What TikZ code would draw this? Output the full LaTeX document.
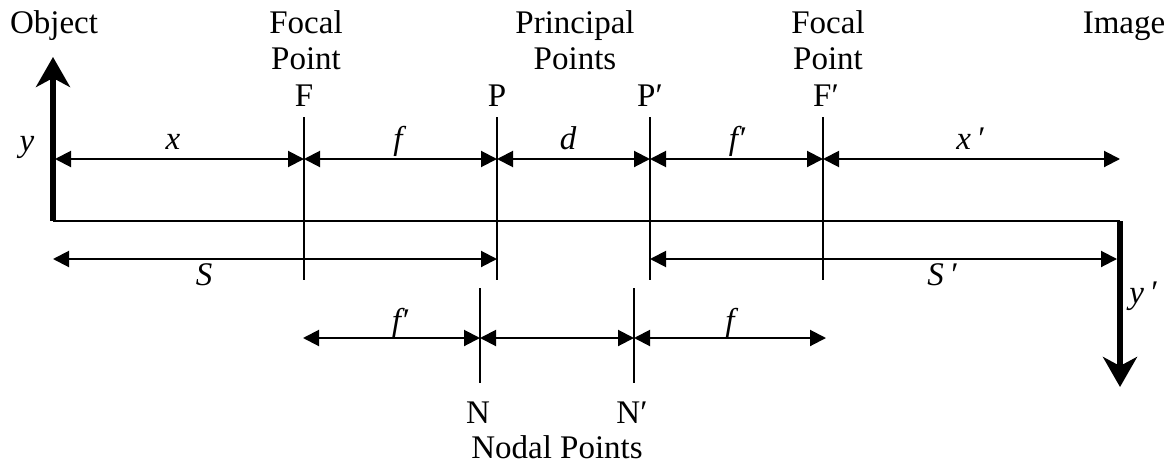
\documentclass[tikz,border=0pt]{standalone}
\usepackage{fontspec}
\setmainfont{Liberation Serif}
\usetikzlibrary{arrows.meta}
\begin{document}
\begin{tikzpicture}[x=0.5pt,y=-0.5pt,
  txt/.style={inner sep=0pt,anchor=base,font=\fontsize{16.5}{19}\selectfont},
  itxt/.style={txt,font=\fontsize{16.5}{19}\selectfont\itshape},
  thin line/.style={line width=1pt},
  dim/.style={line width=1pt,{Triangle[length=8pt,width=8pt]}-{Triangle[length=8pt,width=8pt]}},
  bigarrow/.style={line width=2.6pt,-{Stealth[length=15pt,width=17pt,inset=4.5pt]}}]
\useasboundingbox (0,0) rectangle (1165,466);
% object / image / axis
\coordinate (Ob) at (53,221);
\coordinate (Ot) at (53,57);
\coordinate (Ib) at (1120,221);
\coordinate (It) at (1120,387);
\draw[thin line] (Ob) -- (Ib);
\draw[bigarrow] (Ob) -- (Ot);
\draw[bigarrow] (Ib) -- (It);
% vertical lines
\coordinate (Ft) at (304,117); \coordinate (Fb) at (304,280);
\coordinate (Pt) at (497,117); \coordinate (Pb) at (497,280);
\coordinate (Ppt) at (650,117); \coordinate (Ppb) at (650,280);
\coordinate (Fpt) at (823,117); \coordinate (Fpb) at (823,280);
\coordinate (Nt) at (480,288); \coordinate (Nb) at (480,383);
\coordinate (Npt) at (634,288); \coordinate (Npb) at (634,383);
\foreach \a/\b in {Ft/Fb,Pt/Pb,Ppt/Ppb,Fpt/Fpb,Nt/Nb,Npt/Npb}
  \draw[thin line] (\a) -- (\b);
% top dimension row
\coordinate (r0) at (55,159);
\coordinate (r1) at (304,159);
\coordinate (r2) at (497,159);
\coordinate (r3) at (650,159);
\coordinate (r4) at (823,159);
\coordinate (r5) at (1120,159);
\draw[dim] (r0) -- (r1);
\draw[dim] (r1) -- (r2);
\draw[dim] (r2) -- (r3);
\draw[dim] (r3) -- (r4);
\draw[dim] (r4) -- (r5);
% S row
\coordinate (s0) at (53,259);
\coordinate (s1) at (497,259);
\coordinate (s2) at (650,259);
\coordinate (s3) at (1117,259);
\draw[dim] (s0) -- (s1);
\draw[dim] (s2) -- (s3);
% lower row
\coordinate (n0) at (303,338);
\coordinate (n1) at (480,338);
\coordinate (n2) at (634,338);
\coordinate (n3) at (826,338);
\draw[dim] (n0) -- (n1);
\draw[dim] (n1) -- (n2);
\draw[dim] (n2) -- (n3);
% labels
\node[txt] (lobj) at (54,33) {Object};
\node[txt] (lfoc1) at (306,33) {Focal};
\node[txt] (lpt1) at (306,69) {Point};
\node[txt] (lF) at (304,106) {F};
\node[txt] (lpri) at (575,33) {Principal};
\node[txt] (lpts) at (575,69) {Points};
\node[txt] (lP) at (497,106) {P};
\node[txt] (lPp) at (650,106) {P′};
\node[txt] (lfoc2) at (828,33) {Focal};
\node[txt] (lpt2) at (828,69) {Point};
\node[txt] (lFp) at (826,106) {F′};
\node[txt] (limg) at (1124,33) {Image};
\node[itxt] (ly) at (27,151) {y};
\node[itxt] (lx) at (173,149) {x};
\node[itxt] (lf) at (398,149) {f};
\node[itxt] (ld) at (568,149) {d};
\node[itxt] (lfp) at (737,149) {f′};
\node[itxt] (lxp) at (970,149) {x\,′};
\node[itxt] (lS) at (204,285) {S};
\node[itxt] (lSp) at (942,285) {S\,′};
\node[itxt] (lyp) at (1143,303) {y\,′};
\node[itxt] (lfp2) at (400,331) {f′};
\node[itxt] (lf2) at (730,331) {f};
\node[txt] (lN) at (478,423) {N};
\node[txt] (lNp) at (632,423) {N′};
\node[txt] (lnod) at (557,458) {Nodal Points};
\end{tikzpicture}
\end{document}
